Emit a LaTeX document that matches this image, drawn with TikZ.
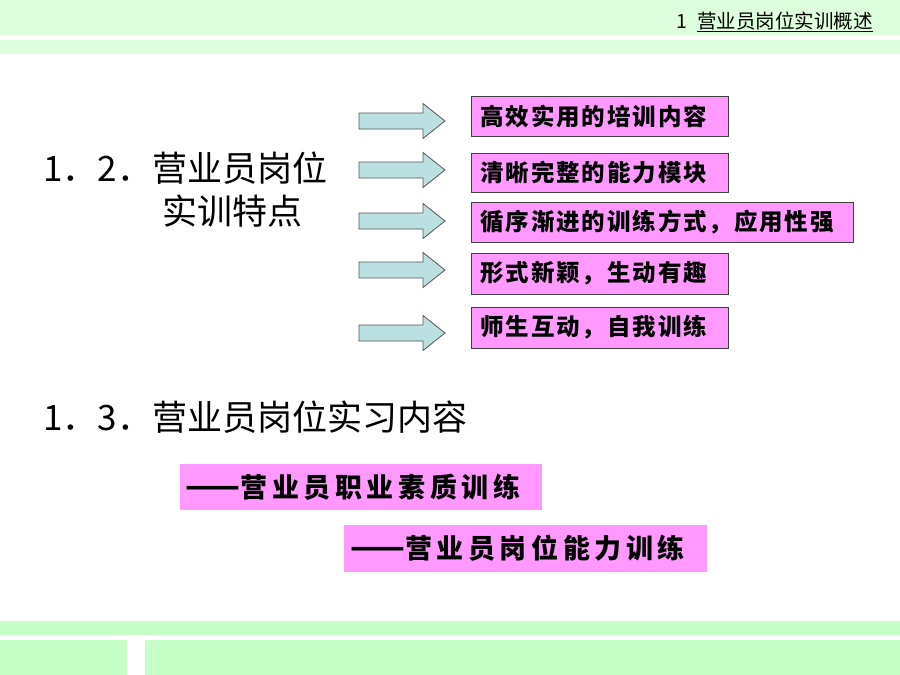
\documentclass[tikz,border=0pt]{standalone}
\usepackage{fontspec}
\newfontfamily\heifont{Noto Sans CJK SC}
\newfontfamily\boxfont[LetterSpace=8]{Noto Sans CJK SC}
\newfontfamily\bandfont[LetterSpace=17]{Noto Sans CJK SC}
\newcommand\longdash{{\heifont\fontsize{32}{32}\selectfont ——}}
\definecolor{bandtop}{RGB}{222,255,222}
\definecolor{bandlow}{RGB}{198,255,198}
\definecolor{pinkbox}{RGB}{255,153,255}
\definecolor{arrowfill}{RGB}{186,224,226}
\definecolor{arrowline}{RGB}{85,85,85}
\begin{document}
\begin{tikzpicture}[x=1pt, y=-1pt,
    title node/.style={anchor=west, inner sep=0pt, font=\heifont\fontsize{35}{40}\selectfont},
    feature box/.style={draw=black!75, fill=pinkbox, anchor=west, line width=0.8pt, inner xsep=9pt, inner ysep=0pt, text width=#1, align=left, font=\boxfont\bfseries\fontsize{23.5}{27}\selectfont},
    content box/.style={fill=pinkbox, anchor=west, inner xsep=6pt, inner ysep=0pt, text width=#1, align=left, font=\bandfont\bfseries\fontsize{27}{32}\selectfont},
    block arrow/.style={draw=arrowline, fill=arrowfill, line width=0.8pt, line join=miter}]
    \useasboundingbox (0,0) rectangle (900,675);
    % bands
    \fill[bandtop] (0,0) rectangle (900,35);
    \fill[bandtop] (0,40) rectangle (900,54);
    \fill[bandlow] (0,621) rectangle (900,635);
    \fill[bandlow] (0,640) rectangle (127,675);
    \fill[bandlow] (145,640) rectangle (900,675);
    \node[anchor=east, inner sep=0pt, font=\heifont\fontsize{19.5}{22}\selectfont] (hdr) at (873,22) {1\enspace\underline{营业员岗位实训概述}};
    % 1.2
    \node[title node] (t12a) at (43,168) {1．2．营业员岗位};
    \node[title node] (t12b) at (162,211) {实训特点};
    \foreach \yy in {121,170,221,270,333}
        \draw[block arrow] (359,\yy-8) -- (423,\yy-8) -- (423,\yy-17.5) -- (445,\yy) -- (423,\yy+17.5) -- (423,\yy+8) -- (359,\yy+8) -- cycle;
    \node[feature box=239pt, minimum height=40pt] (b1) at (471,116) {高效实用的培训内容};
    \node[feature box=239pt, minimum height=39pt] (b2) at (471,172.5) {清晰完整的能力模块};
    \node[feature box=364pt, minimum height=40pt] (b3) at (471,222) {循序渐进的训练方式，应用性强};
    \node[feature box=239pt, minimum height=41pt] (b4) at (471,273.5) {形式新颖，生动有趣};
    \node[feature box=239pt, minimum height=41pt] (b5) at (471,327.5) {师生互动，自我训练};
    % 1.3
    \node[title node] (t13) at (43,417) {1．3．营业员岗位实习内容};
    \node[content box=350pt, minimum height=46pt] (p1) at (179.5,487) {\longdash 营业员职业素质训练};
    \node[content box=351pt, minimum height=47pt] (p2) at (344,548.5) {\longdash 营业员岗位能力训练};
\end{tikzpicture}
\end{document}
